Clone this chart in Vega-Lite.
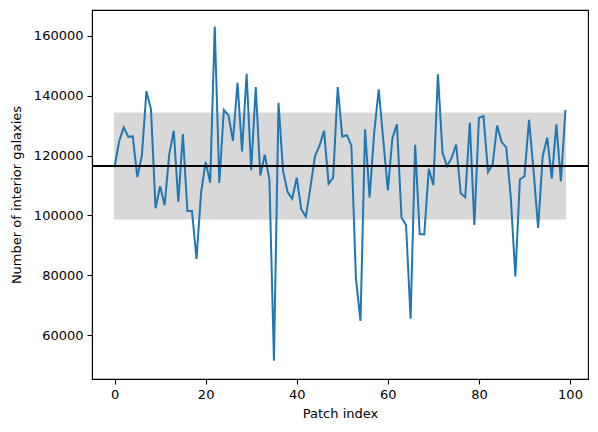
{
  "$schema": "https://vega.github.io/schema/vega-lite/v6.json",
  "width": 496,
  "height": 369,
  "autosize": "none",
  "padding": {"left": 92, "top": 10, "right": 10, "bottom": 53},
  "config": {
    "font": "DejaVu Sans",
    "view": {"stroke": "#000000", "strokeWidth": 1.1},
    "axis": {
      "grid": false,
      "domainColor": "#000000",
      "domainWidth": 1.1,
      "tickColor": "#000000",
      "tickWidth": 1.1,
      "tickSize": 5,
      "labelPadding": 4,
      "labelFontSize": 13,
      "labelColor": "#000000",
      "titleFontSize": 13,
      "titleFontWeight": "normal",
      "titleColor": "#000000"
    }
  },
  "datasets": {
    "patches": [
      {"patch": 0, "galaxies": 116100}, {"patch": 1, "galaxies": 124700},
      {"patch": 2, "galaxies": 129400}, {"patch": 3, "galaxies": 126300},
      {"patch": 4, "galaxies": 126400}, {"patch": 5, "galaxies": 112800},
      {"patch": 6, "galaxies": 120000}, {"patch": 7, "galaxies": 141500},
      {"patch": 8, "galaxies": 135400}, {"patch": 9, "galaxies": 102400},
      {"patch": 10, "galaxies": 109800}, {"patch": 11, "galaxies": 103400},
      {"patch": 12, "galaxies": 120300}, {"patch": 13, "galaxies": 128300},
      {"patch": 14, "galaxies": 104500}, {"patch": 15, "galaxies": 127200},
      {"patch": 16, "galaxies": 101500}, {"patch": 17, "galaxies": 101500},
      {"patch": 18, "galaxies": 85500}, {"patch": 19, "galaxies": 107600},
      {"patch": 20, "galaxies": 117900}, {"patch": 21, "galaxies": 110900},
      {"patch": 22, "galaxies": 163100}, {"patch": 23, "galaxies": 110900},
      {"patch": 24, "galaxies": 135200}, {"patch": 25, "galaxies": 133500},
      {"patch": 26, "galaxies": 124900}, {"patch": 27, "galaxies": 144300},
      {"patch": 28, "galaxies": 121400}, {"patch": 29, "galaxies": 147300},
      {"patch": 30, "galaxies": 115100}, {"patch": 31, "galaxies": 142900},
      {"patch": 32, "galaxies": 113400}, {"patch": 33, "galaxies": 120300},
      {"patch": 34, "galaxies": 112000}, {"patch": 35, "galaxies": 51500},
      {"patch": 36, "galaxies": 137600}, {"patch": 37, "galaxies": 114800},
      {"patch": 38, "galaxies": 107800}, {"patch": 39, "galaxies": 105600},
      {"patch": 40, "galaxies": 112600}, {"patch": 41, "galaxies": 102100},
      {"patch": 42, "galaxies": 99600}, {"patch": 43, "galaxies": 109300},
      {"patch": 44, "galaxies": 119800}, {"patch": 45, "galaxies": 123300},
      {"patch": 46, "galaxies": 128300}, {"patch": 47, "galaxies": 110600},
      {"patch": 48, "galaxies": 112600}, {"patch": 49, "galaxies": 142900},
      {"patch": 50, "galaxies": 126300}, {"patch": 51, "galaxies": 126800},
      {"patch": 52, "galaxies": 123300}, {"patch": 53, "galaxies": 78900},
      {"patch": 54, "galaxies": 64800}, {"patch": 55, "galaxies": 128800},
      {"patch": 56, "galaxies": 105900}, {"patch": 57, "galaxies": 127500},
      {"patch": 58, "galaxies": 142100}, {"patch": 59, "galaxies": 125200},
      {"patch": 60, "galaxies": 108400}, {"patch": 61, "galaxies": 125800},
      {"patch": 62, "galaxies": 130400}, {"patch": 63, "galaxies": 99300},
      {"patch": 64, "galaxies": 96800}, {"patch": 65, "galaxies": 65500},
      {"patch": 66, "galaxies": 123600}, {"patch": 67, "galaxies": 93800},
      {"patch": 68, "galaxies": 93700}, {"patch": 69, "galaxies": 115600},
      {"patch": 70, "galaxies": 110100}, {"patch": 71, "galaxies": 147100},
      {"patch": 72, "galaxies": 121000}, {"patch": 73, "galaxies": 116400},
      {"patch": 74, "galaxies": 119200}, {"patch": 75, "galaxies": 123700},
      {"patch": 76, "galaxies": 107400}, {"patch": 77, "galaxies": 106100},
      {"patch": 78, "galaxies": 131000}, {"patch": 79, "galaxies": 96800},
      {"patch": 80, "galaxies": 132600}, {"patch": 81, "galaxies": 133200},
      {"patch": 82, "galaxies": 114500}, {"patch": 83, "galaxies": 117000},
      {"patch": 84, "galaxies": 130000}, {"patch": 85, "galaxies": 124500},
      {"patch": 86, "galaxies": 122700}, {"patch": 87, "galaxies": 106000},
      {"patch": 88, "galaxies": 79600}, {"patch": 89, "galaxies": 112000},
      {"patch": 90, "galaxies": 113100}, {"patch": 91, "galaxies": 131900},
      {"patch": 92, "galaxies": 115000}, {"patch": 93, "galaxies": 95800},
      {"patch": 94, "galaxies": 119700}, {"patch": 95, "galaxies": 126000},
      {"patch": 96, "galaxies": 112300}, {"patch": 97, "galaxies": 130400},
      {"patch": 98, "galaxies": 111400}, {"patch": 99, "galaxies": 135200}
    ],
    "band": [
      {"patch": 0, "lo": 98800, "hi": 134200},
      {"patch": 99, "lo": 98800, "hi": 134200}
    ],
    "mean": [{"galaxies": 116500}]
  },
  "encoding": {
    "x": {
      "field": "patch",
      "type": "quantitative",
      "title": "Patch index",
      "scale": {"domain": [-4.95, 103.95], "nice": false, "zero": false},
      "axis": {"values": [0, 20, 40, 60, 80, 100], "titlePadding": 6}
    }
  },
  "layer": [
    {
      "data": {"name": "band"},
      "mark": {"type": "area", "color": "gray", "opacity": 0.3, "stroke": "gray", "strokeWidth": 1},
      "encoding": {
        "y": {
          "field": "lo",
          "type": "quantitative",
          "title": "Number of interior galaxies",
          "scale": {"domain": [45400, 168600], "nice": false, "zero": false},
          "axis": {"values": [60000, 80000, 100000, 120000, 140000, 160000], "format": "d", "titlePadding": 10}
        },
        "y2": {"field": "hi"}
      }
    },
    {
      "data": {"name": "patches"},
      "mark": {"type": "line", "color": "#1f77b4", "strokeWidth": 2},
      "encoding": {
        "y": {"field": "galaxies", "type": "quantitative"}
      }
    },
    {
      "data": {"name": "mean"},
      "mark": {"type": "rule", "color": "#000000", "strokeWidth": 2},
      "encoding": {
        "x": null,
        "y": {"field": "galaxies", "type": "quantitative"}
      }
    }
  ]
}
